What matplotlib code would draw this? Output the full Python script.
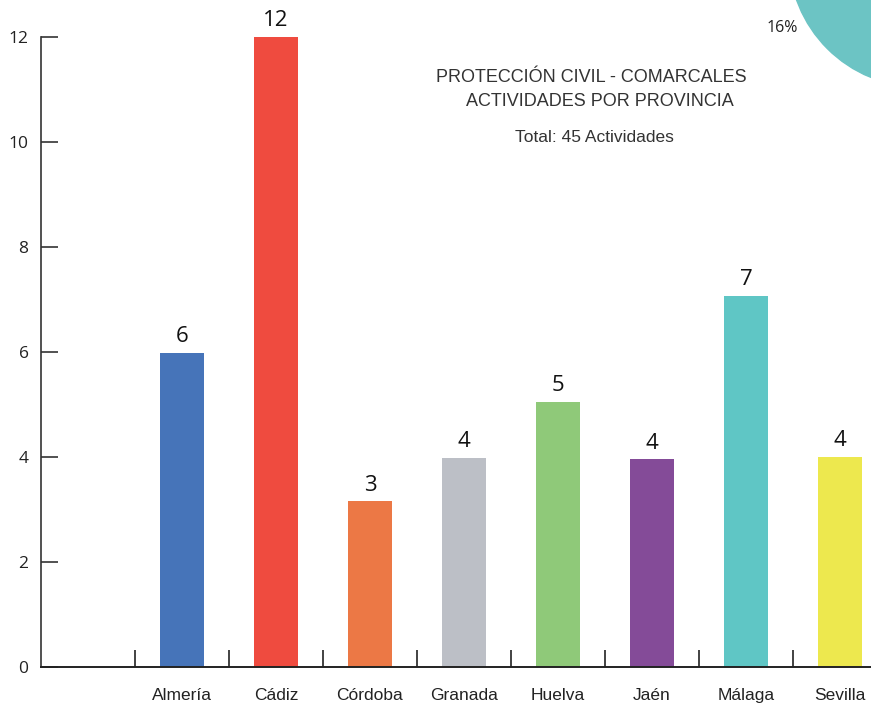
import numpy as np
import matplotlib
matplotlib.use("Agg")
import matplotlib.pyplot as plt
from matplotlib.patches import Ellipse

# datos
provincias = ["Almería", "Cádiz", "Córdoba", "Granada", "Huelva", "Jaén", "Málaga", "Sevilla"]
alturas = [5.98, 12.0, 3.16, 3.98, 5.05, 3.96, 7.07, 4.0]
etiquetas = ["6", "12", "3", "4", "5", "4", "7", "4"]
colores = ["#4674b9", "#ef4b3f", "#ec7845", "#bcbfc6", "#8fc979", "#844b98", "#5fc6c5", "#ede84e"]
titulo1 = "PROTECCIÓN CIVIL - COMARCALES"
titulo2 = "ACTIVIDADES POR PROVINCIA"
total = "Total: 45 Actividades"
pct = "16%"

W, H = 871, 706
fig = plt.figure(figsize=(W / 100, H / 100), dpi=100)
ax = fig.add_axes([41 / W, 39 / H, 830 / W, 667 / H])

# primera casilla vacia, las provincias empiezan en 1
x = np.arange(1, len(provincias) + 1)
ax.bar(x, alturas, width=0.46, color=colores)

for xi, h, t in zip(x, alturas, etiquetas):
    ax.annotate(t, (xi, h), xytext=(0, 4), textcoords="offset points",
                ha="center", va="bottom", fontsize=16, family="Open Sans", color="#111111")

ax.set_xlim(-0.5, 8.33)
ax.set_ylim(0, 667 / 52.5)

for s in ["top", "right"]:
    ax.spines[s].set_visible(False)
ax.spines["left"].set_bounds(0, 12)
ax.spines["left"].set_color("#333333")
ax.spines["bottom"].set_color("#222222")
ax.spines["left"].set_linewidth(1.2)
ax.spines["bottom"].set_linewidth(1.4)

ax.set_yticks(range(0, 13, 2))
ax.set_yticklabels([str(v) for v in range(0, 13, 2)], family="Open Sans", fontsize=12.5, color="#222222")
ax.tick_params(axis="y", direction="in", length=12, width=1.2, pad=9, color="#333333")

ax.set_xticks(x)
ax.set_xticklabels(provincias, family="Liberation Sans", fontsize=12.5, color="#222222")
ax.tick_params(axis="x", which="major", length=0, pad=15)
ax.set_xticks(np.arange(0.5, 8.0, 1.0), minor=True)
ax.tick_params(axis="x", which="minor", direction="in", length=12, width=1.2, color="#222222")

fig.text(591 / W, 1 - 77 / H, titulo1, ha="center", va="center", fontsize=13,
         family="Liberation Sans", color="#333333")
fig.text(600 / W, 1 - 101 / H, titulo2, ha="center", va="center", fontsize=13,
         family="Liberation Sans", color="#333333")
fig.text(594 / W, 1 - 137 / H, total, ha="center", va="center", fontsize=12.5,
         family="Liberation Sans", color="#333333")

# trozo del grafico circular en la esquina
fig.patches.append(Ellipse((920 / W, 1 + 44 / H), 2 * 131 / W, 2 * 131 / H,
                           transform=fig.transFigure, color="#6cc4c4", zorder=0))
fig.text(782 / W, 1 - 28 / H, pct, ha="center", va="center", fontsize=11.5,
         family="Open Sans", color="#222222")

fig.savefig("out.png", dpi=100)
